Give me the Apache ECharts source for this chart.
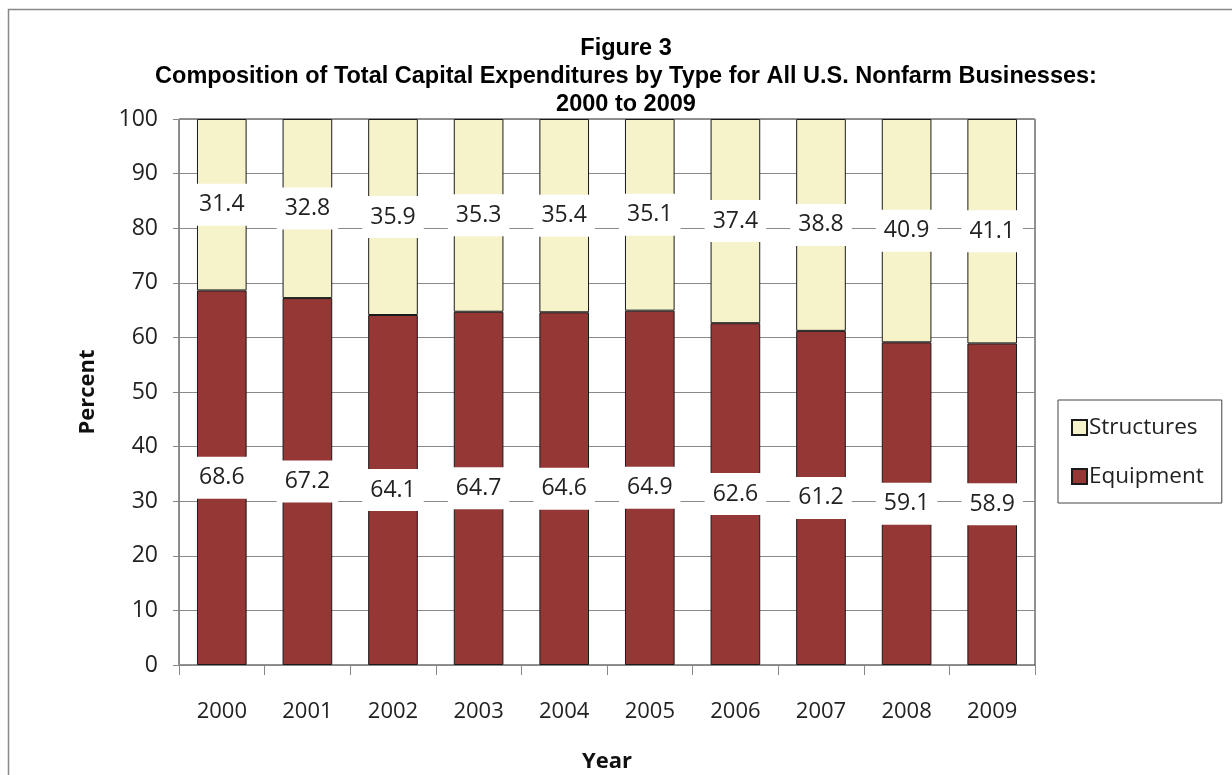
<!DOCTYPE html>
<html>
<head>
<meta charset="utf-8">
<script src="https://cdn.jsdelivr.net/npm/echarts@6/dist/echarts.min.js"></script>
<style>
  html, body { margin: 0; padding: 0; background: #fff; }
  #chart_capex { width: 1232px; height: 775px; }
</style>
</head>
<body>
<div id="chart_capex"></div>
<script>
// data
var years = ['2000', '2001', '2002', '2003', '2004', '2005', '2006', '2007', '2008', '2009'];
var equipment = [68.6, 67.2, 64.1, 64.7, 64.6, 64.9, 62.6, 61.2, 59.1, 58.9];
var structures = [31.4, 32.8, 35.9, 35.3, 35.4, 35.1, 37.4, 38.8, 40.9, 41.1];
var yTicks = [0, 10, 20, 30, 40, 50, 60, 70, 80, 90, 100];

var bodyFont = 'Open Sans';
var titleFont = '"Liberation Sans Narrow", "Liberation Sans", Arial';

function segLabel() {
    return {
        show: true,
        position: 'inside',
        color: '#222',
        fontFamily: bodyFont,
        fontSize: 23,
        lineHeight: 26,
        backgroundColor: '#fff',
        padding: [8, 8]
    };
}

var chart = echarts.init(document.getElementById('chart_capex'));

var option = {
    backgroundColor: '#fff',
    animation: false,
    title: {
        text: 'Figure 3\nComposition of Total Capital Expenditures by Type for All U.S. Nonfarm Businesses:\n2000 to 2009',
        left: 621,
        top: 30,
        textAlign: 'center',
        textStyle: {
            fontFamily: titleFont,
            fontWeight: 'bold',
            fontSize: 23.5,
            lineHeight: 28,
            color: '#000'
        }
    },
    graphic: [
        {
            type: 'rect',
            shape: { x: 8.5, y: 9.5, width: 1400, height: 900 },
            style: { fill: 'none', stroke: '#888', lineWidth: 1.5 },
            silent: true
        }
    ],
    legend: {
        orient: 'vertical',
        left: 1058,
        top: 400,
        data: ['Structures', 'Equipment'],
        icon: 'rect',
        itemWidth: 15,
        itemHeight: 15,
        itemGap: 26,
        padding: [16, 18, 15, 13],
        borderColor: '#444',
        borderWidth: 1,
        textStyle: {
            fontFamily: bodyFont,
            fontSize: 22.5,
            color: '#222',
            padding: [0, 0, 0, -3]
        }
    },
    grid: {
        left: 179,
        right: 197,
        top: 119,
        bottom: 110,
        outerBoundsMode: 'none',
        containLabel: false,
        show: true,
        borderColor: '#222',
        borderWidth: 1
    },
    xAxis: {
        type: 'category',
        data: years,
        name: 'Year',
        nameLocation: 'middle',
        nameGap: 86,
        nameTextStyle: {
            fontFamily: bodyFont,
            fontWeight: 'bold',
            fontSize: 22,
            color: '#111'
        },
        axisLine: { lineStyle: { color: '#888', width: 1 } },
        axisTick: { show: true, length: 10, alignWithLabel: false, lineStyle: { color: '#888' } },
        axisLabel: {
            margin: 36,
            fontFamily: bodyFont,
            fontSize: 22,
            color: '#222'
        }
    },
    yAxis: {
        type: 'value',
        min: yTicks[0],
        max: yTicks[yTicks.length - 1],
        interval: 10,
        name: 'Percent',
        nameLocation: 'middle',
        nameRotate: 90,
        nameGap: 80,
        nameTextStyle: {
            fontFamily: bodyFont,
            fontWeight: 'bold',
            fontSize: 22,
            color: '#111'
        },
        axisLine: { show: true, lineStyle: { color: '#888', width: 1 } },
        axisTick: { show: true, length: 6, inside: false, lineStyle: { color: '#888' } },
        splitLine: { show: true, lineStyle: { color: '#8a8a8a', width: 1 } },
        axisLabel: {
            margin: 21,
            fontFamily: bodyFont,
            fontSize: 23,
            color: '#222'
        }
    },
    series: [
        {
            name: 'Equipment',
            type: 'bar',
            stack: 'total',
            barWidth: '58%',
            data: equipment,
            itemStyle: { color: '#953735', borderColor: '#1a1a1a', borderWidth: 1 },
            label: segLabel()
        },
        {
            name: 'Structures',
            type: 'bar',
            stack: 'total',
            barWidth: '58%',
            data: structures,
            itemStyle: { color: '#F6F3CB', borderColor: '#1a1a1a', borderWidth: 1 },
            label: segLabel()
        }
    ]
};

chart.setOption(option);
</script>
</body>
</html>
